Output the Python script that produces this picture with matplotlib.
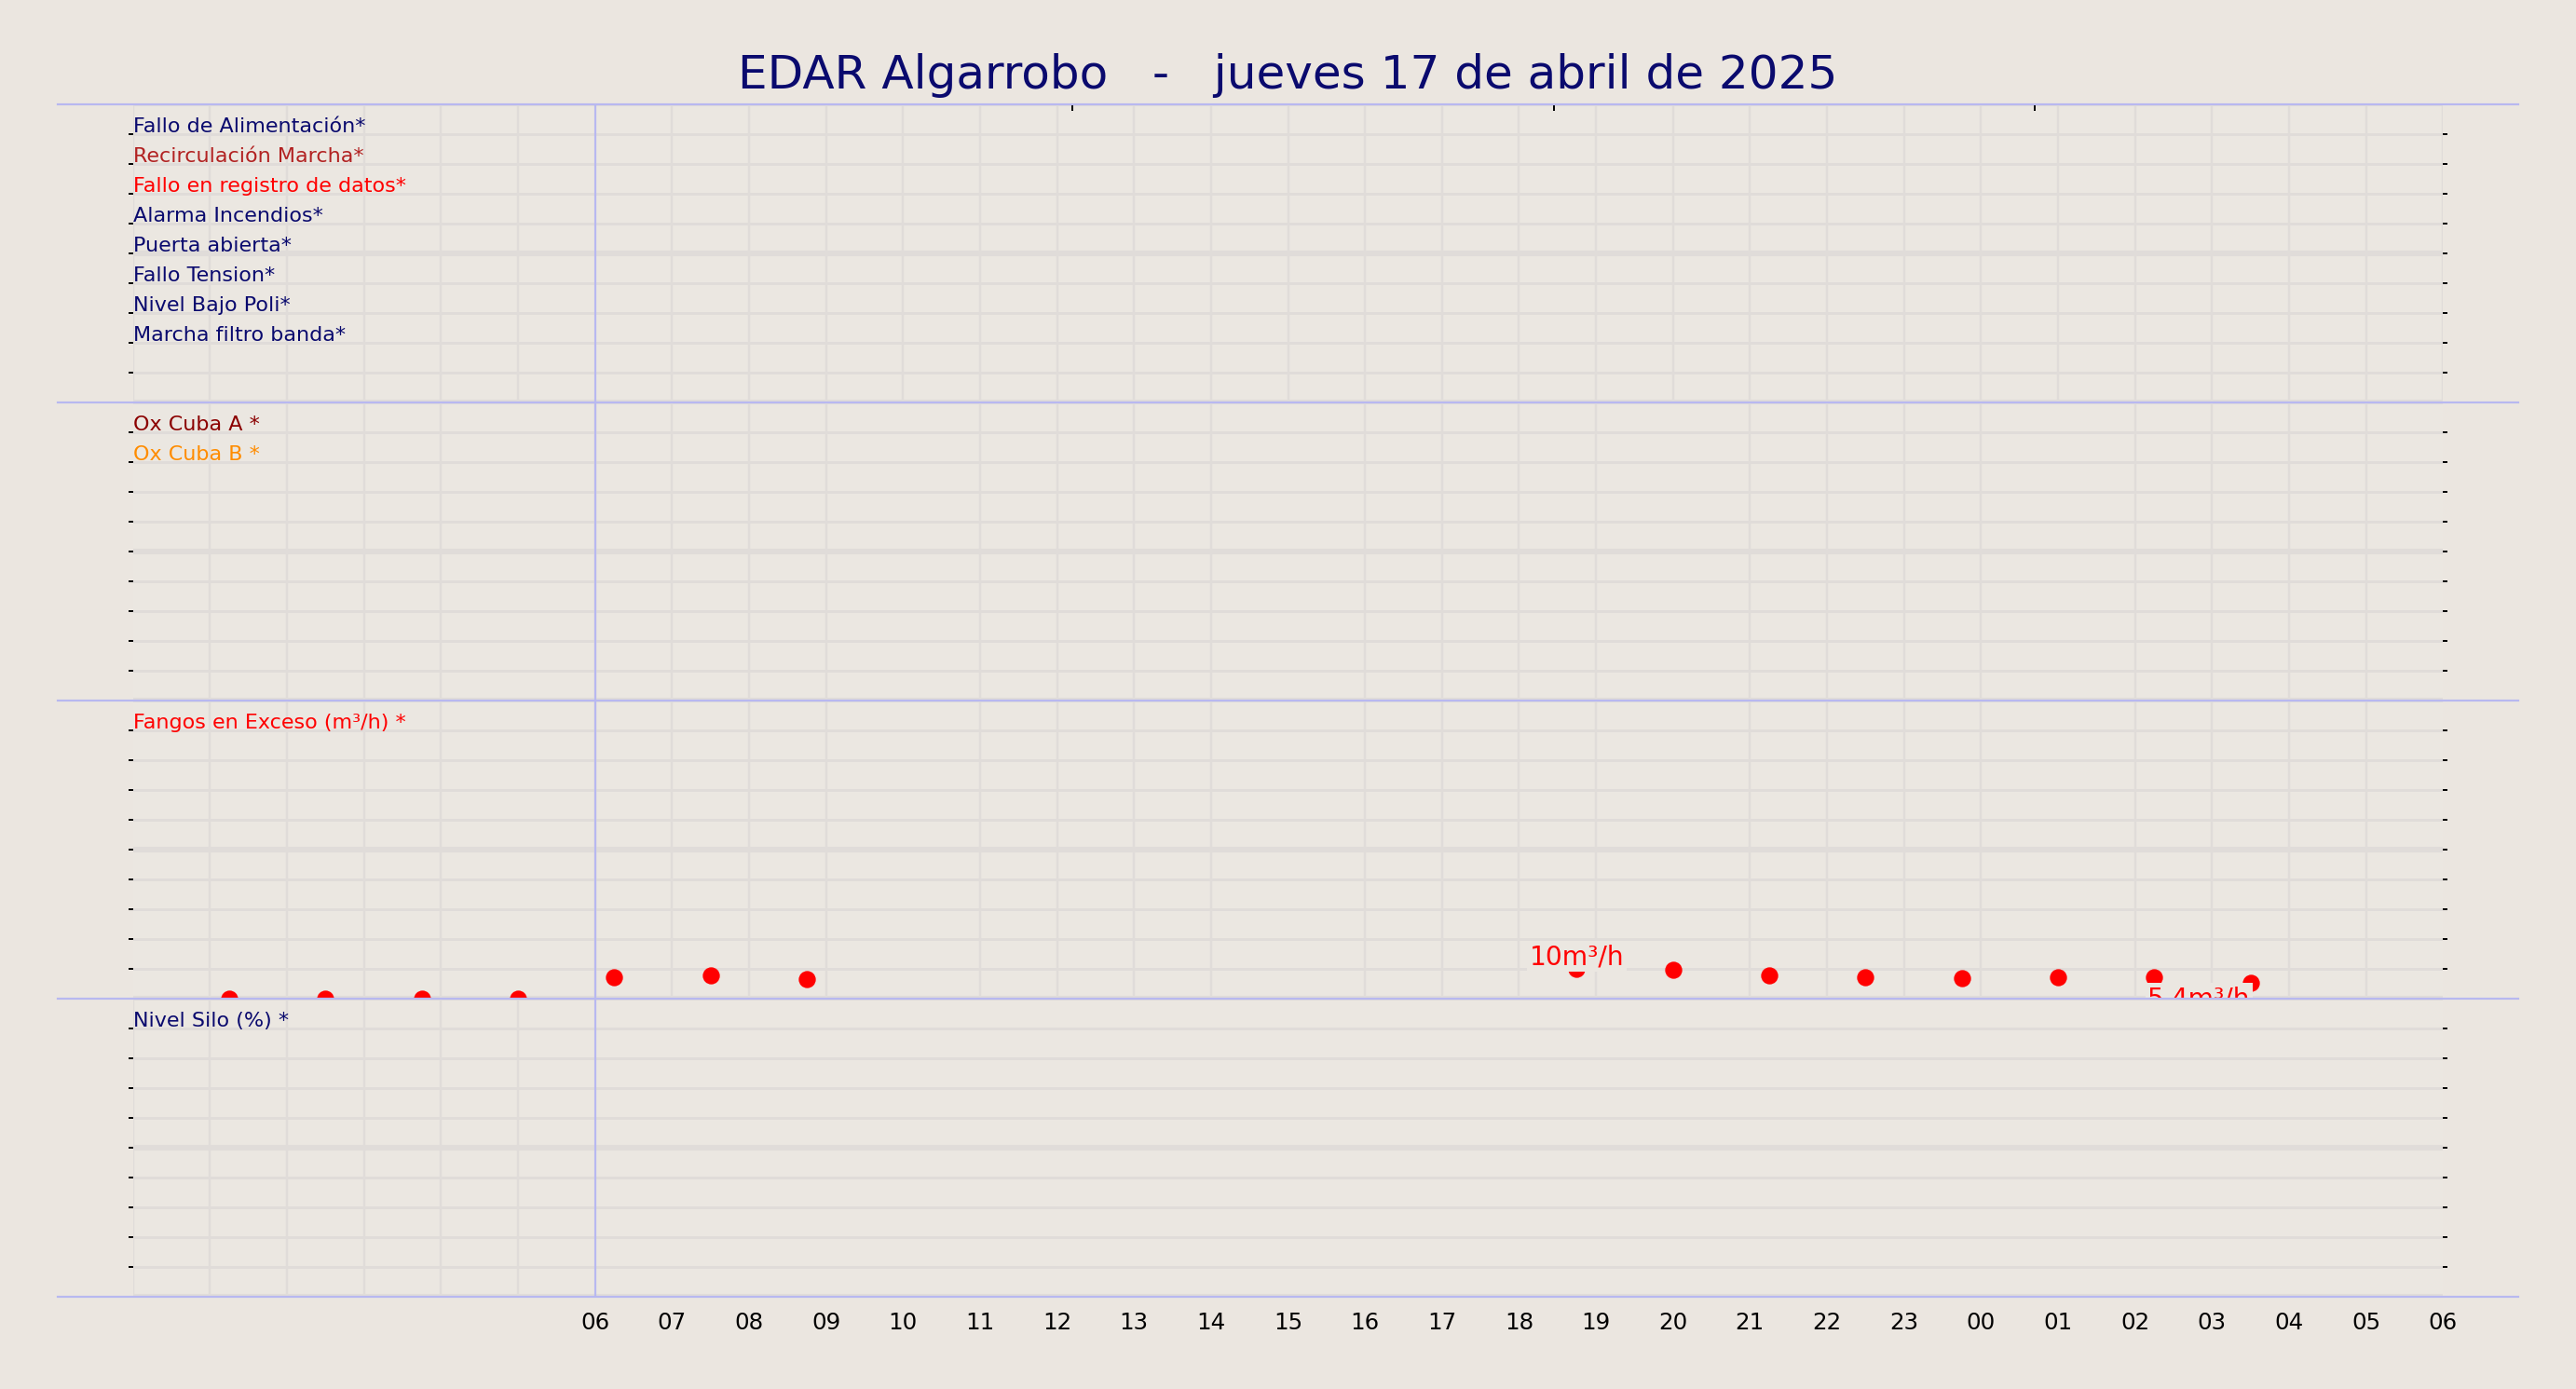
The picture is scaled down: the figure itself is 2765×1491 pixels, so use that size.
import matplotlib
matplotlib.use("Agg")
import matplotlib.pyplot as plt
from matplotlib.lines import Line2D

title = "EDAR Algarrobo   -   jueves 17 de abril de 2025"
panel1_labels = ["Fallo de Alimentación*", "Recirculación Marcha*", "Fallo en registro de datos*",
                 "Alarma Incendios*", "Puerta abierta*", "Fallo Tension*", "Nivel Bajo Poli*",
                 "Marcha filtro banda*"]
panel1_colors = ["#0a0a6e", "#b22222", "#ff0000", "#0a0a6e", "#0a0a6e", "#0a0a6e", "#0a0a6e", "#0a0a6e"]
panel2_labels = ["Ox Cuba A *", "Ox Cuba B *"]
panel2_colors = ["#8b0000", "#ff8c00"]
panel3_labels = ["Fangos en Exceso (m³/h) *"]
panel4_labels = ["Nivel Silo (%) *"]
fangos_hours = [1.25, 2.5, 3.75, 5.0, 6.25, 7.5, 8.75, 18.75, 20.0, 21.25, 22.5, 23.75, 25.0, 26.25, 27.5]
fangos_vals = [0, 0, 0, 0, 7.4, 8.0, 6.5, 10.0, 9.8, 8.0, 7.4, 6.9, 7.4, 7.4, 5.4]
tick_hours = list(range(6, 31))
tick_labels = ["%02d" % (h % 24) for h in tick_hours]
top_ticks = [6, 12.2, 18.45, 24.7]

BG = "#ebe6e0"
AXBG = "#ebe7e1"
GRID = "#e0dcd9"
SEP = "#b8b8f0"
NAVY = "#0a0a6e"

fig = plt.figure(figsize=(15.68, 8.46), dpi=176.34)
fig.patch.set_facecolor(BG)
W, H = 1568, 846
left, right = 81 / W, 1487 / W
tops = [64, 245.5, 427, 608.5]
ph = 181.5
axes = []
for t in tops:
    ax = fig.add_axes([left, 1 - (t + ph) / H, right - left, ph / H])
    ax.set_facecolor(AXBG)
    ax.set_xlim(0, 30)
    ax.set_ylim(0, 100)
    for s in ax.spines.values():
        s.set_visible(False)
    ax.set_xticks(range(0, 31), minor=True)
    ax.set_yticks(range(0, 101, 10))
    ax.grid(True, which="minor", axis="x", color=GRID, lw=1.0, zorder=0)
    for yv in range(0, 101, 10):
        ax.axhline(yv, color=GRID, lw=2.5 if yv in (0, 50) else 1.2, zorder=0)
    ax.tick_params(axis="y", left=True, right=True, labelleft=False, length=2, width=0.8, color="black", direction="out")
    ax.tick_params(axis="x", which="both", length=0, labelbottom=False)
    ax.axvline(6, color=SEP, lw=0.9, zorder=2)
    axes.append(ax)

ax1, ax2, ax3, ax4 = axes
FS = 9.1
for i, (lab, c) in enumerate(zip(panel1_labels, panel1_colors)):
    ax1.text(0, 100 - (i + 0.72) * 10, lab, color=c, fontsize=FS, va="center", ha="left")
for i, (lab, c) in enumerate(zip(panel2_labels, panel2_colors)):
    ax2.text(0, 100 - (i + 0.72) * 10, lab, color=c, fontsize=FS, va="center", ha="left")
ax3.text(0, 100 - 0.72 * 10, panel3_labels[0], color="#ff0000", fontsize=FS, va="center", ha="left")
ax4.text(0, 100 - 0.72 * 10, panel4_labels[0], color=NAVY, fontsize=FS, va="center", ha="left")

ax3.scatter(fangos_hours, fangos_vals, s=42, color="#ff0000", zorder=3, clip_on=False)
imax = fangos_vals.index(max(fangos_vals))
ax3.annotate("%gm³/h" % fangos_vals[imax], (fangos_hours[imax], fangos_vals[imax]), xytext=(0, 0),
             textcoords="offset points", ha="center", va="bottom", color="#ff0000", fontsize=11.5,
             bbox=dict(facecolor=AXBG, edgecolor="none", pad=1), zorder=4)
ax3.annotate("%gm³/h" % fangos_vals[-1], (fangos_hours[-1], fangos_vals[-1]), xytext=(0, -1),
             textcoords="offset points", ha="right", va="top", color="#ff0000", fontsize=11.5,
             bbox=dict(facecolor=AXBG, edgecolor="none", pad=1), zorder=4)

ax1.set_xticks(top_ticks)
ax1.tick_params(axis="x", which="major", top=True, bottom=False, length=3, width=0.8, direction="in", labeltop=False)
ax4.set_xticks(tick_hours)
ax4.set_xticklabels(tick_labels)
ax4.tick_params(axis="x", which="major", labelbottom=True, length=0, labelsize=10, pad=6)

for t in tops + [tops[-1] + ph]:
    fig.add_artist(Line2D([35 / W, 1533 / W], [1 - t / H, 1 - t / H], color=SEP, lw=0.9))

fig.text(0.5, 1 - 46 / H, title, ha="center", va="center", fontsize=20.5, color=NAVY)
fig.savefig("out.png", dpi=176.34, facecolor=BG)
